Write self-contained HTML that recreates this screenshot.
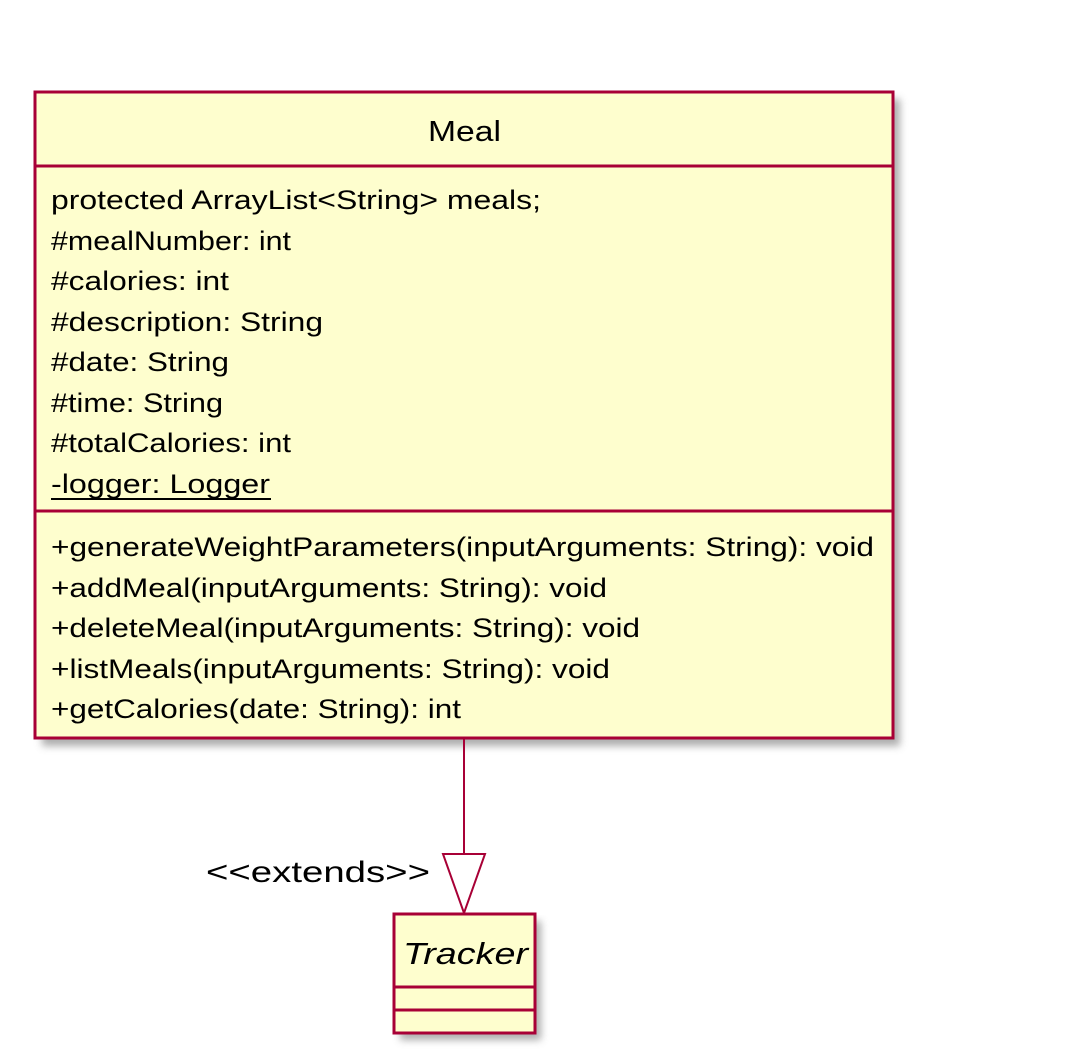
<!DOCTYPE html>
<html><head><style>body{margin:0;background:#fff}svg{display:block}</style></head>
<body>
<svg width="1074" height="1058" xmlns="http://www.w3.org/2000/svg" font-family="'Liberation Sans', sans-serif">
<defs><filter id="s" x="-5%" y="-5%" width="115%" height="115%"><feGaussianBlur stdDeviation="4"/></filter></defs>
<rect x="42" y="99" width="858" height="647" fill="#999" filter="url(#s)" opacity="0.8"/>
<rect x="35" y="92" width="858" height="646" fill="#FEFECE" stroke="#A80036" stroke-width="3"/>
<line x1="35" y1="166" x2="893" y2="166" stroke="#A80036" stroke-width="3"/>
<line x1="35" y1="511" x2="893" y2="511" stroke="#A80036" stroke-width="3"/>
<text x="428" y="141" font-size="29" textLength="73" lengthAdjust="spacingAndGlyphs" fill="#000">Meal</text>
<g font-size="27" fill="#000" lengthAdjust="spacingAndGlyphs">
<text x="51" y="209" textLength="490" lengthAdjust="spacingAndGlyphs">protected ArrayList&lt;String&gt; meals;</text>
<text x="51" y="250" textLength="240" lengthAdjust="spacingAndGlyphs">#mealNumber: int</text>
<text x="51" y="290" textLength="178" lengthAdjust="spacingAndGlyphs">#calories: int</text>
<text x="51" y="331" textLength="272" lengthAdjust="spacingAndGlyphs">#description: String</text>
<text x="51" y="371" textLength="178" lengthAdjust="spacingAndGlyphs">#date: String</text>
<text x="51" y="412" textLength="172" lengthAdjust="spacingAndGlyphs">#time: String</text>
<text x="51" y="452" textLength="240" lengthAdjust="spacingAndGlyphs">#totalCalories: int</text>
<text x="51" y="493" textLength="219" lengthAdjust="spacingAndGlyphs">-logger: Logger</text>
<text x="51" y="556" textLength="823" lengthAdjust="spacingAndGlyphs">+generateWeightParameters(inputArguments: String): void</text>
<text x="51" y="597" textLength="556" lengthAdjust="spacingAndGlyphs">+addMeal(inputArguments: String): void</text>
<text x="51" y="637" textLength="589" lengthAdjust="spacingAndGlyphs">+deleteMeal(inputArguments: String): void</text>
<text x="51" y="678" textLength="559" lengthAdjust="spacingAndGlyphs">+listMeals(inputArguments: String): void</text>
<text x="51" y="718" textLength="410" lengthAdjust="spacingAndGlyphs">+getCalories(date: String): int</text>
</g>
<line x1="51" y1="499" x2="271" y2="499" stroke="#000" stroke-width="2"/>
<line x1="464" y1="738" x2="464" y2="854" stroke="#A80036" stroke-width="2"/>
<polygon points="443,854 485,854 464,913" fill="#fff" stroke="#A80036" stroke-width="2"/>
<text x="206" y="882" font-size="30" textLength="224" lengthAdjust="spacingAndGlyphs" fill="#000">&lt;&lt;extends&gt;&gt;</text>
<rect x="400" y="921" width="141" height="119" fill="#999" filter="url(#s)" opacity="0.8"/>
<rect x="394" y="914" width="141" height="119" fill="#FEFECE" stroke="#A80036" stroke-width="3"/>
<line x1="394" y1="987" x2="535" y2="987" stroke="#A80036" stroke-width="3"/>
<line x1="394" y1="1010" x2="535" y2="1010" stroke="#A80036" stroke-width="3"/>
<text x="403" y="964" font-size="31" font-style="italic" textLength="125" lengthAdjust="spacingAndGlyphs" fill="#000">Tracker</text>
</svg>
</body></html>
